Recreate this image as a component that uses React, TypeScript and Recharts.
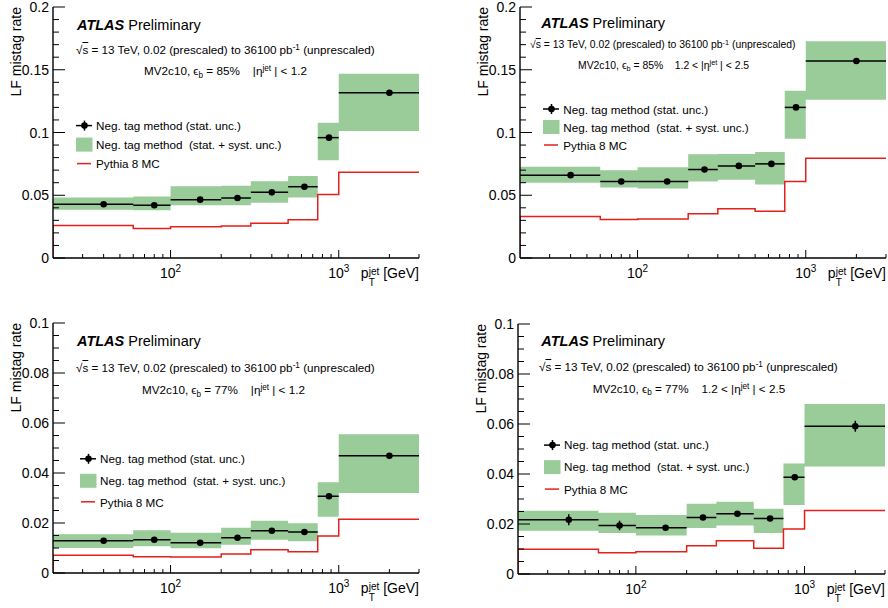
import React from 'react';
import { ComposedChart, Area, Line, Scatter, ErrorBar, XAxis, YAxis, Legend } from 'recharts';

const FONT = "'Liberation Sans', Arial, Helvetica, sans-serif";
const BAND_GREEN = '#99cc99';
const MC_RED = '#e3201b';

const CHART_W = 444;
const CHART_H = 304;
const Y_AXIS_W = 45;
const X_AXIS_H = 30;
const Y_TICK_GAP = 4;

// pT bins (GeV)
const binEdges = [20, 60, 100, 200, 300, 500, 750, 1000, 3000];
const binCenters = [40, 80, 150, 250, 400, 625, 875, 2000];

const xTicks = [30, 40, 50, 60, 70, 80, 90, 100, 200, 300, 400, 500, 600, 700, 800, 900, 1000, 2000, 3000];
const xMajors = [100, 1000];
const xMajorExp = ['2', '3'];

const yTicks85 = [0, 0.01, 0.02, 0.03, 0.04, 0.05, 0.06, 0.07, 0.08, 0.09, 0.1, 0.11, 0.12, 0.13, 0.14, 0.15, 0.16, 0.17, 0.18, 0.19, 0.2];
const yMajors85 = [0, 0.05, 0.1, 0.15, 0.2];
const yTicks77 = [0, 0.005, 0.01, 0.015, 0.02, 0.025, 0.03, 0.035, 0.04, 0.045, 0.05, 0.055, 0.06, 0.065, 0.07, 0.075, 0.08, 0.085, 0.09, 0.095, 0.1];
const yMajors77 = [0, 0.02, 0.04, 0.06, 0.08, 0.1];

// eb = 85%, |eta| < 1.2
const rate85c = [0.0428, 0.042, 0.0465, 0.0478, 0.0523, 0.0568, 0.0959, 0.1317];
const stat85c = [0.0008, 0.0008, 0.0006, 0.0005, 0.0006, 0.0007, 0.0012, 0.0015];
const systLow85c = [0.0385, 0.038, 0.042, 0.042, 0.0441, 0.0483, 0.0778, 0.1012];
const systHigh85c = [0.0483, 0.0491, 0.0571, 0.0576, 0.0611, 0.0653, 0.1078, 0.1469];
const mc85c = [0.0258, 0.0236, 0.025, 0.0255, 0.0276, 0.0305, 0.0505, 0.0683];

// eb = 85%, 1.2 < |eta| < 2.5
const rate85f = [0.066, 0.0609, 0.0609, 0.0705, 0.0734, 0.075, 0.12, 0.157];
const stat85f = [0.0012, 0.001, 0.0008, 0.0008, 0.0008, 0.001, 0.0015, 0.002];
const systLow85f = [0.0599, 0.0562, 0.0554, 0.0609, 0.0623, 0.0585, 0.0951, 0.1261];
const systHigh85f = [0.0728, 0.0699, 0.0723, 0.0826, 0.0829, 0.0845, 0.1332, 0.1727];
const mc85f = [0.0331, 0.0307, 0.031, 0.0352, 0.0392, 0.0373, 0.0609, 0.0795];

// eb = 77%, |eta| < 1.2
const rate77c = [0.0129, 0.0133, 0.0121, 0.0141, 0.0169, 0.0164, 0.0307, 0.0469];
const stat77c = [0.0006, 0.0007, 0.0005, 0.0005, 0.0005, 0.0006, 0.0008, 0.001];
const systLow77c = [0.01, 0.0107, 0.0099, 0.0113, 0.0133, 0.0127, 0.0225, 0.032];
const systHigh77c = [0.0155, 0.0171, 0.0161, 0.0181, 0.0209, 0.0199, 0.0363, 0.0555];
const mc77c = [0.0071, 0.0065, 0.0064, 0.0076, 0.0093, 0.0085, 0.0148, 0.0215];

// eb = 77%, 1.2 < |eta| < 2.5
const rate77f = [0.0217, 0.0194, 0.0185, 0.0226, 0.0241, 0.0222, 0.0387, 0.0591];
const stat77f = [0.0022, 0.0019, 0.0008, 0.0008, 0.0008, 0.0008, 0.001, 0.0022];
const systLow77f = [0.0173, 0.0164, 0.0154, 0.0184, 0.0194, 0.0164, 0.0276, 0.043];
const systHigh77f = [0.0253, 0.0245, 0.0236, 0.0281, 0.0289, 0.0261, 0.0442, 0.068];
const mc77f = [0.0099, 0.0085, 0.0089, 0.0113, 0.0133, 0.0103, 0.018, 0.0254];

const NAME_STAT = 'Neg. tag method (stat. unc.)';
const NAME_SYST = 'Neg. tag method  (stat. + syst. unc.)';
const NAME_MC = 'Pythia 8 MC';

const panels = [
  {
    id: 'tl', left: 0, top: 0,
    margin: { top: 7, right: 25, bottom: 16, left: 8 },
    yTicks: yTicks85, yMajors: yMajors85,
    rate: rate85c, stat: stat85c, systLow: systLow85c, systHigh: systHigh85c, mc: mc85c,
    wp: '85', etaLow: null, small: 11.7,
    atlas: [77, 25], lumi: [76, 50], sel: [144, 71], legend: [76, 115.7, 19.2],
  },
  {
    id: 'tr', left: 444, top: 0,
    margin: { top: 7, right: 2, bottom: 16, left: 31 },
    yTicks: yTicks85, yMajors: yMajors85,
    rate: rate85f, stat: stat85f, systLow: systLow85f, systHigh: systHigh85f, mc: mc85f,
    wp: '85', etaLow: '1.2', small: 10.4,
    atlas: [97.3, 23], lumi: [86, 45], sel: [134, 65.7], legend: [99.3, 100, 18],
  },
  {
    id: 'bl', left: 0, top: 304,
    margin: { top: 19, right: 25, bottom: 5, left: 8 },
    yTicks: yTicks77, yMajors: yMajors77,
    rate: rate77c, stat: stat77c, systLow: systLow77c, systHigh: systHigh77c, mc: mc77c,
    wp: '77', etaLow: null, small: 11.7,
    atlas: [77, 36.7], lumi: [76, 63.3], sel: [142, 86], legend: [80, 144.2, 21.6],
  },
  {
    id: 'br', left: 444, top: 304,
    margin: { top: 20, right: 3, bottom: 4, left: 29 },
    yTicks: yTicks77, yMajors: yMajors77,
    rate: rate77f, stat: stat77f, systLow: systLow77f, systHigh: systHigh77f, mc: mc77f,
    wp: '77', etaLow: '1.2', small: 11.7,
    atlas: [97.3, 36.7], lumi: [95, 62.7], sel: [148.7, 84.3], legend: [100, 129.6, 22.2],
  },
];

const supStyle: React.CSSProperties = { fontSize: '0.7em', position: 'relative', top: '-0.5em', lineHeight: 0 };
const subStyle: React.CSSProperties = { fontSize: '0.7em', position: 'relative', top: '0.3em', lineHeight: 0 };

const YTick = (props: any) => {
  const { x, y, payload, majors, side } = props;
  const v = payload.value;
  const major = majors.includes(v);
  const len = major ? 12 : 6;
  if (side === 'right') {
    return <line x1={x} x2={x - len} y1={y} y2={y} stroke="#000" strokeWidth={1} />;
  }
  const ax = x + Y_TICK_GAP;
  return (
    <g>
      <line x1={ax} x2={ax + len} y1={y} y2={y} stroke="#000" strokeWidth={1} />
      {major && (
        <text x={x} y={y} textAnchor="end" dominantBaseline="central" fontSize={14} fontFamily={FONT} fill="#000">
          {String(v)}
        </text>
      )}
    </g>
  );
};

const XTick = (props: any) => {
  const { x, y, payload, side } = props;
  const v = payload.value;
  const mi = xMajors.indexOf(v);
  const len = mi >= 0 ? 8 : 4;
  if (side === 'top') {
    return <line x1={x} x2={x} y1={y} y2={y + len} stroke="#000" strokeWidth={1} />;
  }
  return (
    <g>
      <line x1={x} x2={x} y1={y} y2={y - len} stroke="#000" strokeWidth={1} />
      {mi >= 0 && (
        <text x={x} y={y + 20} textAnchor="middle" fontSize={14} fontFamily={FONT} fill="#000">
          10<tspan dy={-6} fontSize={10}>{xMajorExp[mi]}</tspan>
        </text>
      )}
    </g>
  );
};

const YTitle = (props: any) => {
  const vb = props.viewBox ?? { x: 0, y: 0 };
  const bx = vb.x + 13;
  return (
    <text x={bx} y={vb.y} transform={`rotate(-90 ${bx} ${vb.y})`} textAnchor="end" fontSize={14} fontFamily={FONT} fill="#000">
      LF mistag rate
    </text>
  );
};

const XTitle = (props: any) => {
  const vb = props.viewBox ?? { x: 0, y: 0, width: 0 };
  return (
    <text x={vb.x + vb.width} y={vb.y + 20} textAnchor="end" fontSize={14} fontFamily={FONT} fill="#000">
      p<tspan fontSize={10} dy={8}>T</tspan>
      <tspan fontSize={10} dx={-6} dy={-11}>jet</tspan>
      <tspan dy={3}>{' [GeV]'}</tspan>
    </text>
  );
};

const LEGEND_ORDER = ['rate', 'band', 'mc'];

const legendSymbol = (key: string, h: number) => {
  const c = h / 2;
  if (key === 'rate') {
    return (
      <g>
        <line x1={0} x2={16} y1={c} y2={c} stroke="#000" strokeWidth={1.5} />
        <line x1={8.5} x2={8.5} y1={c - 5} y2={c + 5} stroke="#000" strokeWidth={1.5} />
        <circle cx={8.5} cy={c} r={3.3} fill="#000" />
      </g>
    );
  }
  if (key === 'band') return <rect x={0} y={c - 7} width={16.5} height={14} fill={BAND_GREEN} />;
  return <line x1={1} x2={15} y1={c} y2={c} stroke={MC_RED} strokeWidth={1.5} />;
};

const makeLegend = (rowH: number) => (props: any) => {
  const items = [...(props.payload ?? [])].sort(
    (a: any, b: any) => LEGEND_ORDER.indexOf(a.dataKey) - LEGEND_ORDER.indexOf(b.dataKey)
  );
  return (
    <div style={{ fontFamily: FONT, fontSize: 11.7, color: '#000' }}>
      {items.map((it: any) => (
        <div key={it.dataKey} style={{ display: 'flex', alignItems: 'center', height: rowH, whiteSpace: 'pre' }}>
          <svg width={20} height={rowH} style={{ flex: 'none' }}>{legendSymbol(it.dataKey, rowH)}</svg>
          <span>{it.value}</span>
        </div>
      ))}
    </div>
  );
};

const textAt = (left: number, center: number, size: number): React.CSSProperties => ({
  position: 'absolute',
  left,
  top: center - 0.56 * size,
  fontSize: size,
  lineHeight: 1.15,
  whiteSpace: 'pre',
  fontFamily: FONT,
  color: '#000',
});

const Panel = ({ p }: { p: any }) => {
  const last = p.rate.length - 1;
  const bandData = binEdges.map((x, i) => ({
    x,
    band: [p.systLow[Math.min(i, last)], p.systHigh[Math.min(i, last)]],
  }));
  const mcData = [{ x: binEdges[0], mc: 0 }, ...binEdges.map((x, i) => ({ x, mc: p.mc[Math.min(i, last)] }))];
  const pointData = binCenters.map((c, i) => ({
    x: c,
    rate: p.rate[i],
    xErr: [c - binEdges[i], binEdges[i + 1] - c],
    yErr: p.stat[i],
  }));
  const yMax = p.yTicks[p.yTicks.length - 1];
  const frame = { stroke: '#000', strokeWidth: 1.4 };

  return (
    <div style={{ position: 'absolute', left: p.left, top: p.top, width: CHART_W, height: CHART_H }}>
      <ComposedChart width={CHART_W} height={CHART_H} margin={p.margin}>
        <XAxis
          dataKey="x" type="number" scale="log" domain={[20, 3000]} allowDataOverflow
          ticks={xTicks} interval={0} tickSize={0} tickMargin={0} tickLine={false}
          height={X_AXIS_H} axisLine={frame}
          tick={(t: any) => <XTick {...t} side="bottom" />}
          label={<XTitle />}
        />
        <XAxis
          xAxisId="top" orientation="top" dataKey="x" type="number" scale="log" domain={[20, 3000]} allowDataOverflow
          ticks={xTicks} interval={0} tickSize={0} tickMargin={0} tickLine={false}
          height={0} axisLine={frame}
          tick={(t: any) => <XTick {...t} side="top" />}
        />
        <YAxis
          type="number" domain={[0, yMax]} allowDataOverflow
          ticks={p.yTicks} interval={0} tickSize={0} tickMargin={Y_TICK_GAP} tickLine={false}
          width={Y_AXIS_W} axisLine={frame}
          tick={(t: any) => <YTick {...t} side="left" majors={p.yMajors} />}
          label={<YTitle />}
        />
        <YAxis
          yAxisId="right" orientation="right" type="number" domain={[0, yMax]} allowDataOverflow
          ticks={p.yTicks} interval={0} tickSize={0} tickMargin={0} tickLine={false}
          width={0} axisLine={frame}
          tick={(t: any) => <YTick {...t} side="right" majors={p.yMajors} />}
        />
        <Area
          data={bandData} dataKey="band" name={NAME_SYST} type="stepAfter"
          stroke="none" fill={BAND_GREEN} fillOpacity={1} isAnimationActive={false} activeDot={false}
        />
        <Line
          data={mcData} dataKey="mc" name={NAME_MC} type="stepAfter"
          stroke={MC_RED} strokeWidth={1.5} dot={false} activeDot={false} isAnimationActive={false}
        />
        <Scatter
          data={pointData} dataKey="rate" name={NAME_STAT} fill="#000" isAnimationActive={false}
          shape={(s: any) => <circle cx={s.cx} cy={s.cy} r={3.3} fill="#000" />}
        >
          <ErrorBar dataKey="xErr" direction="x" width={0} stroke="#000" strokeWidth={1.5} />
          <ErrorBar dataKey="yErr" direction="y" width={0} stroke="#000" strokeWidth={1.5} />
        </Scatter>
        <Legend
          layout="horizontal" verticalAlign="middle" align="center"
          wrapperStyle={{ left: p.legend[0], top: p.legend[1], width: 'auto', height: 'auto' }}
          content={makeLegend(p.legend[2])}
        />
      </ComposedChart>

      <div style={textAt(p.atlas[0], p.atlas[1], 14.5)}>
        <span style={{ fontWeight: 'bold', fontStyle: 'italic' }}>ATLAS</span> Preliminary
      </div>
      <div style={textAt(p.lumi[0], p.lumi[1], p.small)}>
        √<span style={{ textDecoration: 'overline' }}>s</span> = 13 TeV, 0.02 (prescaled) to 36100 pb
        <span style={supStyle}>-1</span> (unprescaled)
      </div>
      <div style={textAt(p.sel[0], p.sel[1], p.small)}>
        MV2c10, ϵ<span style={subStyle}>b</span> = {p.wp}%{'    '}
        {p.etaLow ? `${p.etaLow} < ` : ''}|η<span style={supStyle}>jet</span> | &lt; {p.etaLow ? '2.5' : '1.2'}
      </div>
    </div>
  );
};

export default function App() {
  return (
    <div
      style={{
        position: 'absolute', left: 0, top: 0, width: 888, height: 608,
        background: '#fff', overflow: 'hidden', fontFamily: FONT,
      }}
    >
      {panels.map((p) => (
        <Panel key={p.id} p={p} />
      ))}
    </div>
  );
}
